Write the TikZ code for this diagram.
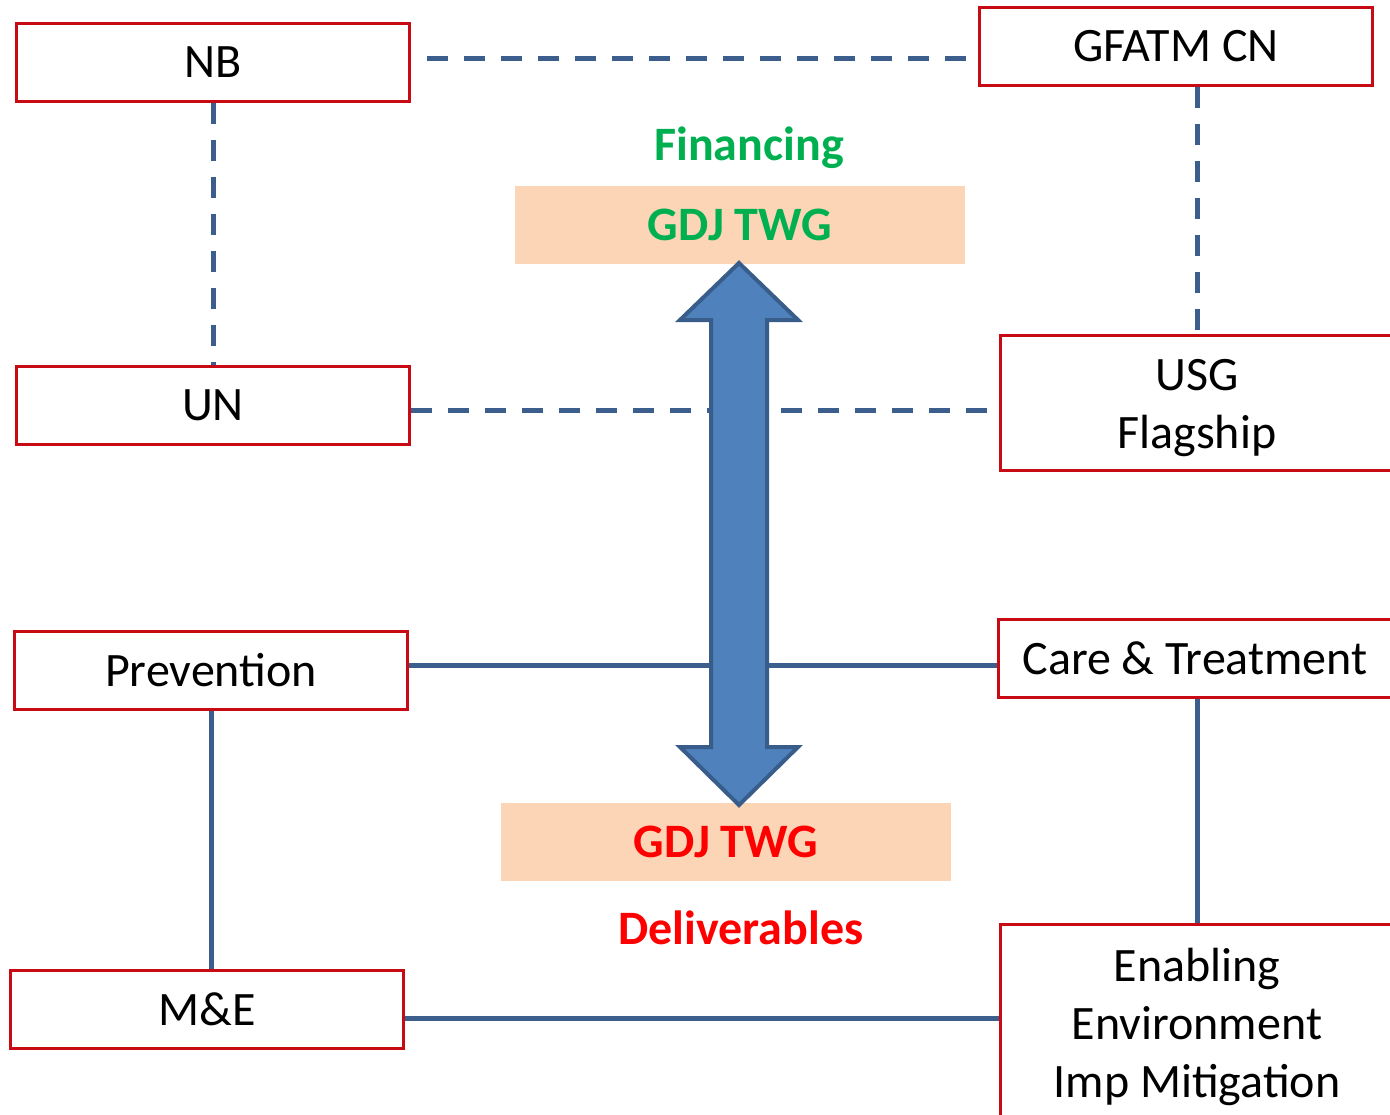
\documentclass[tikz,border=0pt]{standalone}
\usepackage{fontspec}
\setmainfont{Carlito}
\usetikzlibrary{calc}

\definecolor{boxred}{RGB}{200,10,20}
\definecolor{linkblue}{RGB}{59,94,140}
\definecolor{arrowfill}{RGB}{79,129,189}
\definecolor{arrowedge}{RGB}{56,93,138}
\definecolor{peach}{RGB}{251,213,181}
\definecolor{fingreen}{RGB}{0,176,80}
\definecolor{delred}{RGB}{255,0,0}

\begin{document}
\begin{tikzpicture}[x=0.5pt, y=-0.5pt,
  unit/.style={draw=boxred, line width=1.5pt, fill=white, inner sep=0pt,
    minimum width=196.5pt, minimum height=39pt, align=center,
    font=\fontsize{24}{29}\selectfont},
  lines/.style={align=center, inner sep=0pt, yshift=-2.5pt,
    font=\fontsize{24}{29}\selectfont},
  band/.style={fill=peach, inner sep=0pt, minimum width=225pt,
    minimum height=39pt, font=\fontsize{24}{29}\selectfont\bfseries},
  tag/.style={font=\fontsize{24}{29}\selectfont\bfseries},
  link/.style={draw=linkblue, line width=2.5pt},
  dashlink/.style={link, dash pattern=on 10.5pt off 8pt}]
\useasboundingbox (0,0) rectangle (1390,1114);
\clip (0,0) rectangle (1390,1114);

\foreach \n/\t/\x/\y in {nb/NB/213/62, un/UN/213/405,
    prev/Prevention/211/670, me/M\&E/207/1009}
  \node [unit] (\n) at (\x,\y) {\t};

\node [unit] (gfatm) at (1176,46) {GFATM CN};
\node [unit, minimum height=67.5pt,
  label={[lines]center:USG\\Flagship}] (usg) at (1197,403) {};
\node [unit] (care) at (1195,658) {Care \& Treatment};
\node [unit, minimum height=98pt,
  label={[lines]center:Enabling\\Environment\\Imp Mitigation}] (enab) at (1197,1022) {};

% dashed links
\draw [dashlink, dash phase=10.5pt] ([yshift=2pt]nb.east) -- ([yshift=2pt]nb.east -| gfatm.west);
\draw [dashlink] (nb.south) -- (un.north);
\draw [dashlink] (usg.north |- gfatm.south) -- (usg.north);
\draw [dashlink] ([yshift=-2.75pt]un.east) -- ([yshift=-2.75pt]un.east -| usg.west);

% solid links
\draw [link] ([yshift=2.5pt]prev.east) -- ([yshift=2.5pt]prev.east -| care.west);
\draw [link] (prev.south) -- (prev.south |- me.north);
\draw [link] (enab.north |- care.south) -- (enab.north);
\draw [link] ([yshift=-4.5pt]me.east) -- ([yshift=-4.5pt]me.east -| enab.west);

\node [tag, text=fingreen] (fin) at (749,148) {Financing};
\node [band, text=fingreen] (twg-fin) at (740,225) {GDJ TWG};
\node [band, text=delred] (twg-del) at (726,842) {GDJ TWG};
\node [tag, text=delred] (del) at (741,928) {Deliverables};

\coordinate (tip-up) at (739,263);
\coordinate (tip-dn) at (739,805);
\draw [fill=arrowfill, draw=arrowedge, line width=2pt]
  (tip-up) -- ++(59,57) -- ++(-31,0) -- ++(0,427) -- ++(31,0) -- (tip-dn)
  -- ++(-59,-58) -- ++(31,0) -- ++(0,-427) -- ++(-31,0) -- cycle;
\end{tikzpicture}
\end{document}
